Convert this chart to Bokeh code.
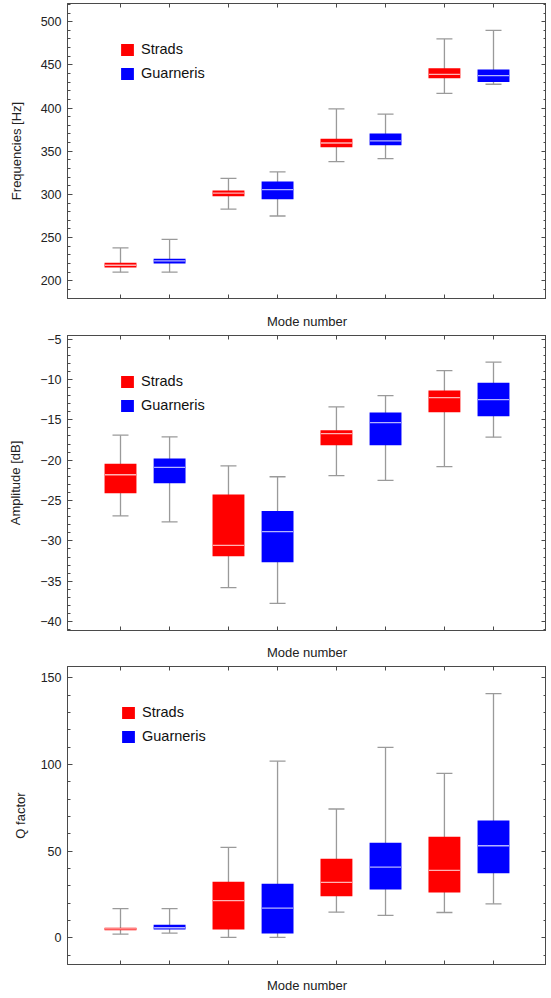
from bokeh.plotting import figure
from bokeh.models import (ColumnDataSource, Range1d, FixedTicker, LinearAxis,
                          Whisker, TeeHead, Legend, LegendItem,
                          CustomJSTickFormatter)
from bokeh.layouts import column
from bokeh.embed import file_html
from bokeh.resources import INLINE

# ---------------- data ----------------
MODES = [1, 2, 3, 4]
SERIES = ["Strads", "Guarneris"]

# Frequencies [Hz]
FREQ_STRADS_LO = [210, 283, 338, 417]
FREQ_STRADS_Q1 = [215.5, 298, 354.5, 434.5]
FREQ_STRADS_MED = [218, 301.5, 359.5, 439]
FREQ_STRADS_Q3 = [221, 304.5, 364.5, 446]
FREQ_STRADS_HI = [238, 318.5, 399, 480]
FREQ_GUARN_LO = [210, 275, 341.5, 427.5]
FREQ_GUARN_Q1 = [220, 294.5, 357, 430]
FREQ_GUARN_MED = [223, 305.5, 362, 437.5]
FREQ_GUARN_Q3 = [225.5, 315, 370.5, 444.5]
FREQ_GUARN_HI = [248, 326, 393, 490]

# Amplitude [dB]
AMP_STRADS_LO = [-26.9, -35.8, -21.9, -20.8]
AMP_STRADS_Q1 = [-24.1, -31.9, -18.15, -14.05]
AMP_STRADS_MED = [-21.8, -30.55, -16.7, -12.25]
AMP_STRADS_Q3 = [-20.45, -24.25, -16.3, -11.35]
AMP_STRADS_HI = [-16.9, -20.7, -13.4, -8.9]
AMP_GUARN_LO = [-27.65, -37.75, -22.5, -17.15]
AMP_GUARN_Q1 = [-22.85, -32.65, -18.15, -14.55]
AMP_GUARN_MED = [-20.9, -28.85, -15.35, -12.5]
AMP_GUARN_Q3 = [-19.8, -26.3, -14.1, -10.4]
AMP_GUARN_HI = [-17.1, -22.05, -12.0, -7.85]

# Q factor
Q_STRADS_LO = [2.1, 0.2, 14.8, 14.6]
Q_STRADS_Q1 = [4.4, 4.8, 23.9, 26.2]
Q_STRADS_MED = [5.2, 21.4, 32.0, 38.9]
Q_STRADS_Q3 = [5.8, 32.3, 45.6, 58.3]
Q_STRADS_HI = [16.8, 52.2, 74.3, 94.9]
Q_GUARN_LO = [2.7, 0.2, 12.9, 19.6]
Q_GUARN_Q1 = [4.8, 2.5, 27.9, 37.2]
Q_GUARN_MED = [5.8, 17.1, 40.8, 53.1]
Q_GUARN_Q3 = [7.5, 31.2, 54.9, 67.6]
Q_GUARN_HI = [16.8, 101.9, 109.8, 140.8]

FREQ_TICKS = [200, 250, 300, 350, 400, 450, 500]
AMP_TICKS = [-40, -35, -30, -25, -20, -15, -10, -5]
Q_TICKS = [0, 50, 100, 150]

# ---------------- style ----------------
COLORS = {"Strads": "#ff0000", "Guarneris": "#0000ff"}
FRAME = "#4a4a4a"
WHISK = "#9a9a9a"
TEXT = "#222222"
FONT = "Liberation Sans"

GROUP_STEP = 2.2
BOX_W = 0.65
X_PAD = 1.08
X_RANGE = (-X_PAD, (len(MODES) - 1) * GROUP_STEP + 1 + X_PAD)


def xpos(series_index):
    return [i * GROUP_STEP + series_index for i in range(len(MODES))]


ALL_X = sorted(xpos(0) + xpos(1))


def minor_ticks(lo, hi, step):
    out = []
    v = lo
    while v <= hi + 1e-9:
        out.append(round(v, 6))
        v += step
    return out


def style_axis(ax, tick_in, minor_in, labels):
    ax.axis_line_color = FRAME
    ax.axis_line_width = 1
    ax.major_tick_line_color = FRAME
    ax.minor_tick_line_color = FRAME
    ax.major_tick_in = tick_in
    ax.major_tick_out = 0
    ax.minor_tick_in = minor_in
    ax.minor_tick_out = 0
    if labels:
        ax.major_label_text_font = FONT
        ax.major_label_text_font_size = "12.5px"
        ax.major_label_text_color = TEXT
        ax.major_label_standoff = 6
    else:
        ax.formatter = CustomJSTickFormatter(code="return ''")
        ax.major_label_standoff = 0
    ax.axis_label_text_font = FONT
    ax.axis_label_text_font_size = "13px"
    ax.axis_label_text_font_style = "normal"
    ax.axis_label_text_color = TEXT


def panel(stats, ylabel, yrange, yticks, minor_step, height, border_left,
          border_top, border_bottom, xlabel_standoff, ylabel_standoff,
          legend_xy):
    p = figure(width=546, height=height, output_backend="svg",
               toolbar_location=None,
               x_range=Range1d(*X_RANGE), y_range=Range1d(*yrange),
               min_border_left=border_left, min_border_right=0,
               min_border_top=border_top, min_border_bottom=border_bottom,
               x_axis_label="Mode number", y_axis_label=ylabel)
    p.grid.visible = False
    p.outline_line_color = FRAME
    p.outline_line_width = 1
    p.background_fill_color = "white"
    p.border_fill_color = "white"

    minors = [v for v in minor_ticks(yticks[0] - 50 * minor_step, yticks[-1] + 50 * minor_step, minor_step)
              if yrange[0] <= v <= yrange[1]]
    yticker = FixedTicker(ticks=yticks, minor_ticks=minors)
    xticker = FixedTicker(ticks=ALL_X, minor_ticks=[])

    yax = p.yaxis[0]
    yax.ticker = yticker
    yax.major_label_overrides = {v: (("\u2212" + str(abs(v))) if v < 0 else str(v)) for v in yticks}
    style_axis(yax, 5, 3, True)
    yax.axis_label_standoff = ylabel_standoff

    xax = p.xaxis[0]
    xax.ticker = xticker
    style_axis(xax, 4, 0, False)
    xax.axis_label_standoff = xlabel_standoff

    rax = LinearAxis(ticker=yticker)
    style_axis(rax, 5, 3, False)
    p.add_layout(rax, "right")
    tax = LinearAxis(ticker=xticker)
    style_axis(tax, 4, 0, False)
    p.add_layout(tax, "above")

    items = []
    for si, name in enumerate(SERIES):
        lo, q1, med, q3, hi = stats[name]
        src = ColumnDataSource(dict(x=xpos(si), lo=lo, q1=q1, med=med, q3=q3, hi=hi))
        w = Whisker(base="x", upper="hi", lower="lo", source=src,
                    dimension="height", line_color=WHISK, line_width=1.3,
                    upper_head=TeeHead(size=16, line_color=WHISK, line_width=1.3),
                    lower_head=TeeHead(size=16, line_color=WHISK, line_width=1.3),
                    level="underlay")
        p.add_layout(w)
        box = p.vbar(x="x", width=BOX_W, bottom="q1", top="q3", source=src,
                     fill_color=COLORS[name], line_color=None)
        p.scatter(x="x", y="med", marker="dash", size=31, source=src,
                  line_color="white", line_alpha=0.7, line_width=1.3)
        items.append(LegendItem(label=name, renderers=[box]))

    leg = Legend(items=items, location=legend_xy, orientation="vertical",
                 glyph_width=16, glyph_height=15, label_height=14,
                 label_width=20, spacing=8, padding=0, margin=0,
                 label_standoff=6, border_line_alpha=0,
                 background_fill_alpha=0,
                 label_text_font=FONT, label_text_font_size="14.5px",
                 label_text_color="#111111")
    p.add_layout(leg)
    return p


freq_stats = {
    "Strads": (FREQ_STRADS_LO, FREQ_STRADS_Q1, FREQ_STRADS_MED, FREQ_STRADS_Q3, FREQ_STRADS_HI),
    "Guarneris": (FREQ_GUARN_LO, FREQ_GUARN_Q1, FREQ_GUARN_MED, FREQ_GUARN_Q3, FREQ_GUARN_HI),
}
amp_stats = {
    "Strads": (AMP_STRADS_LO, AMP_STRADS_Q1, AMP_STRADS_MED, AMP_STRADS_Q3, AMP_STRADS_HI),
    "Guarneris": (AMP_GUARN_LO, AMP_GUARN_Q1, AMP_GUARN_MED, AMP_GUARN_Q3, AMP_GUARN_HI),
}
q_stats = {
    "Strads": (Q_STRADS_LO, Q_STRADS_Q1, Q_STRADS_MED, Q_STRADS_Q3, Q_STRADS_HI),
    "Guarneris": (Q_GUARN_LO, Q_GUARN_Q1, Q_GUARN_MED, Q_GUARN_Q3, Q_GUARN_HI),
}

p1 = panel(freq_stats, "Frequencies [Hz]", (179.5, 521), FREQ_TICKS, 10,
           height=333, border_left=67, border_top=3, border_bottom=35,
           xlabel_standoff=15, ylabel_standoff=14, legend_xy=(52, 217))
p2 = panel(amp_stats, "Amplitude [dB]", (-41.1, -4.55), AMP_TICKS, 1,
           height=331, border_left=67, border_top=2, border_bottom=34,
           xlabel_standoff=14, ylabel_standoff=14, legend_xy=(52, 217))
p3 = panel(q_stats, "Q factor", (-15.4, 156.5), Q_TICKS, 10,
           height=333, border_left=64, border_top=2, border_bottom=33,
           xlabel_standoff=13, ylabel_standoff=10, legend_xy=(53, 220))

layout = column(p1, p2, p3)
open("out.html", "w").write(file_html(layout, INLINE))
